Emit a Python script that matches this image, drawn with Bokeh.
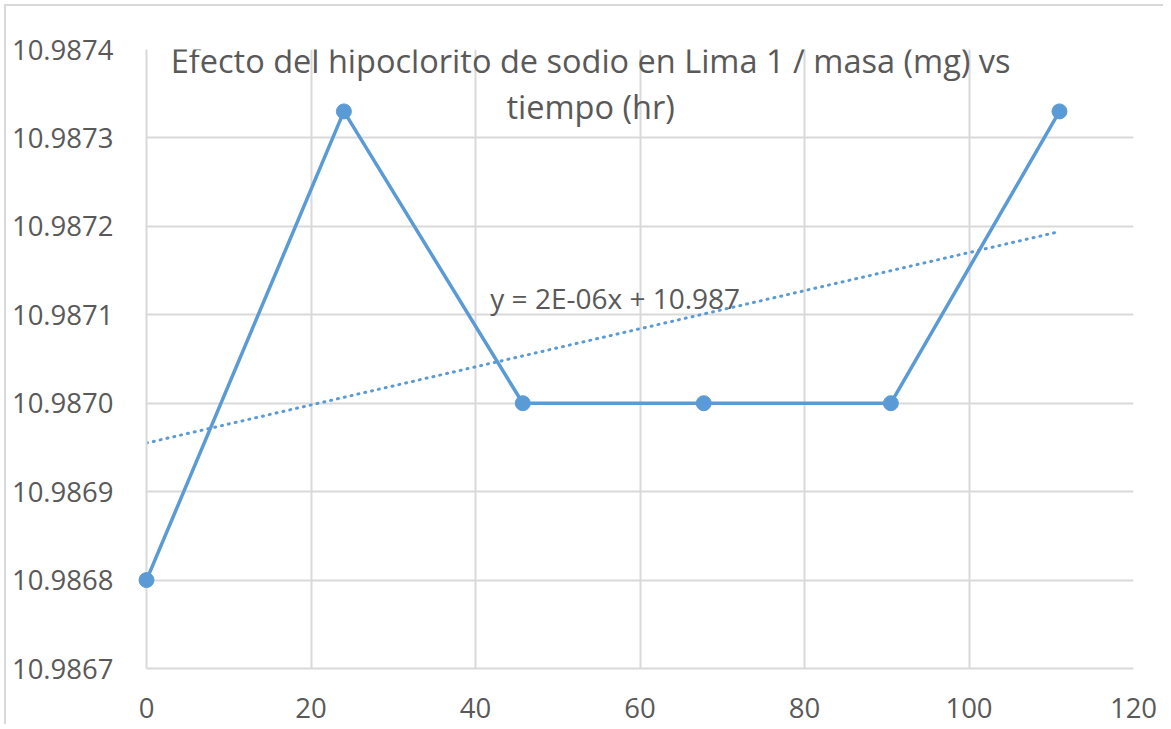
import numpy as np
from bokeh.plotting import figure
from bokeh.models import Range1d, FixedTicker, PrintfTickFormatter, Label, ColumnDataSource
from bokeh.embed import file_html
from bokeh.resources import INLINE

# ---- data ----
tiempo_hr = [0, 24, 45.75, 67.75, 90.5, 111]
masa_mg = [10.9868, 10.98733, 10.9870, 10.9870, 10.9870, 10.98733]
x_ticks = [0, 20, 40, 60, 80, 100, 120]
y_ticks = [10.9867, 10.9868, 10.9869, 10.9870, 10.9871, 10.9872, 10.9873, 10.9874]
title_lines = ["Efecto del hipoclorito de sodio en Lima 1 / masa (mg) vs", "tiempo (hr)"]
equation_text = "y = 2E-06x + 10.987"

FONT = "Open Sans"
TXT = "#595959"
GRID = "#D9D9D9"
BLUE = "#5B9BD5"
TICK_FS = "27.5px"
TITLE_FS = "32.5px"
EQ_FS = "28px"

p = figure(frame_width=987, frame_height=619, output_backend="svg", toolbar_location=None,
           x_range=Range1d(x_ticks[0], x_ticks[-1]), y_range=Range1d(y_ticks[0], y_ticks[-1]),
           min_border_left=140, min_border_top=43, min_border_right=30, min_border_bottom=56)
p.outline_line_color = None
p.background_fill_color = "white"
p.border_fill_color = "white"
p.styles = {"border-left": "2px solid #D9D9D9", "border-top": "2px solid #D9D9D9",
            "margin-left": "4px", "margin-top": "4px"}

p.xaxis.ticker = FixedTicker(ticks=x_ticks)
p.yaxis.ticker = FixedTicker(ticks=y_ticks)
p.yaxis.formatter = PrintfTickFormatter(format="%.4f")
for ax in (p.xaxis, p.yaxis):
    ax.axis_line_color = GRID
    ax.axis_line_width = 2
    ax.major_tick_line_color = None
    ax.minor_tick_line_color = None
    ax.major_label_text_font = FONT
    ax.major_label_text_font_size = TICK_FS
    ax.major_label_text_color = TXT
p.xaxis.major_label_standoff = 23
p.yaxis.major_label_standoff = 27
p.xgrid.grid_line_color = GRID
p.ygrid.grid_line_color = GRID
p.xgrid.grid_line_width = 2
p.ygrid.grid_line_width = 2

src = ColumnDataSource(dict(x=tiempo_hr, y=masa_mg))

# linear trendline fitted from the data
coef = np.polyfit(tiempo_hr, masa_mg, 1)
tx = [min(tiempo_hr), max(tiempo_hr)]
ty = [coef[0] * v + coef[1] for v in tx]
p.line(tx, ty, line_color=BLUE, line_width=3, line_dash="1 6", line_cap="round")

p.line("x", "y", source=src, line_color=BLUE, line_width=3.5)
p.scatter("x", "y", source=src, size=15, fill_color=BLUE, line_color=BLUE, level="overlay")

p.add_layout(Label(x=54, y=10.98738707, text=title_lines[0], text_align="center",
                   text_baseline="alphabetic", text_font=FONT, text_font_size=TITLE_FS, text_color=TXT))
p.add_layout(Label(x=54, y=10.98733605, text=title_lines[1], text_align="center",
                   text_baseline="alphabetic", text_font=FONT, text_font_size=TITLE_FS, text_color=TXT))
p.add_layout(Label(x=41.8, y=10.98711948, text=equation_text, text_align="left",
                   text_baseline="alphabetic", text_font=FONT, text_font_size=EQ_FS, text_color=TXT))

open("out.html", "w").write(file_html(p, INLINE))
